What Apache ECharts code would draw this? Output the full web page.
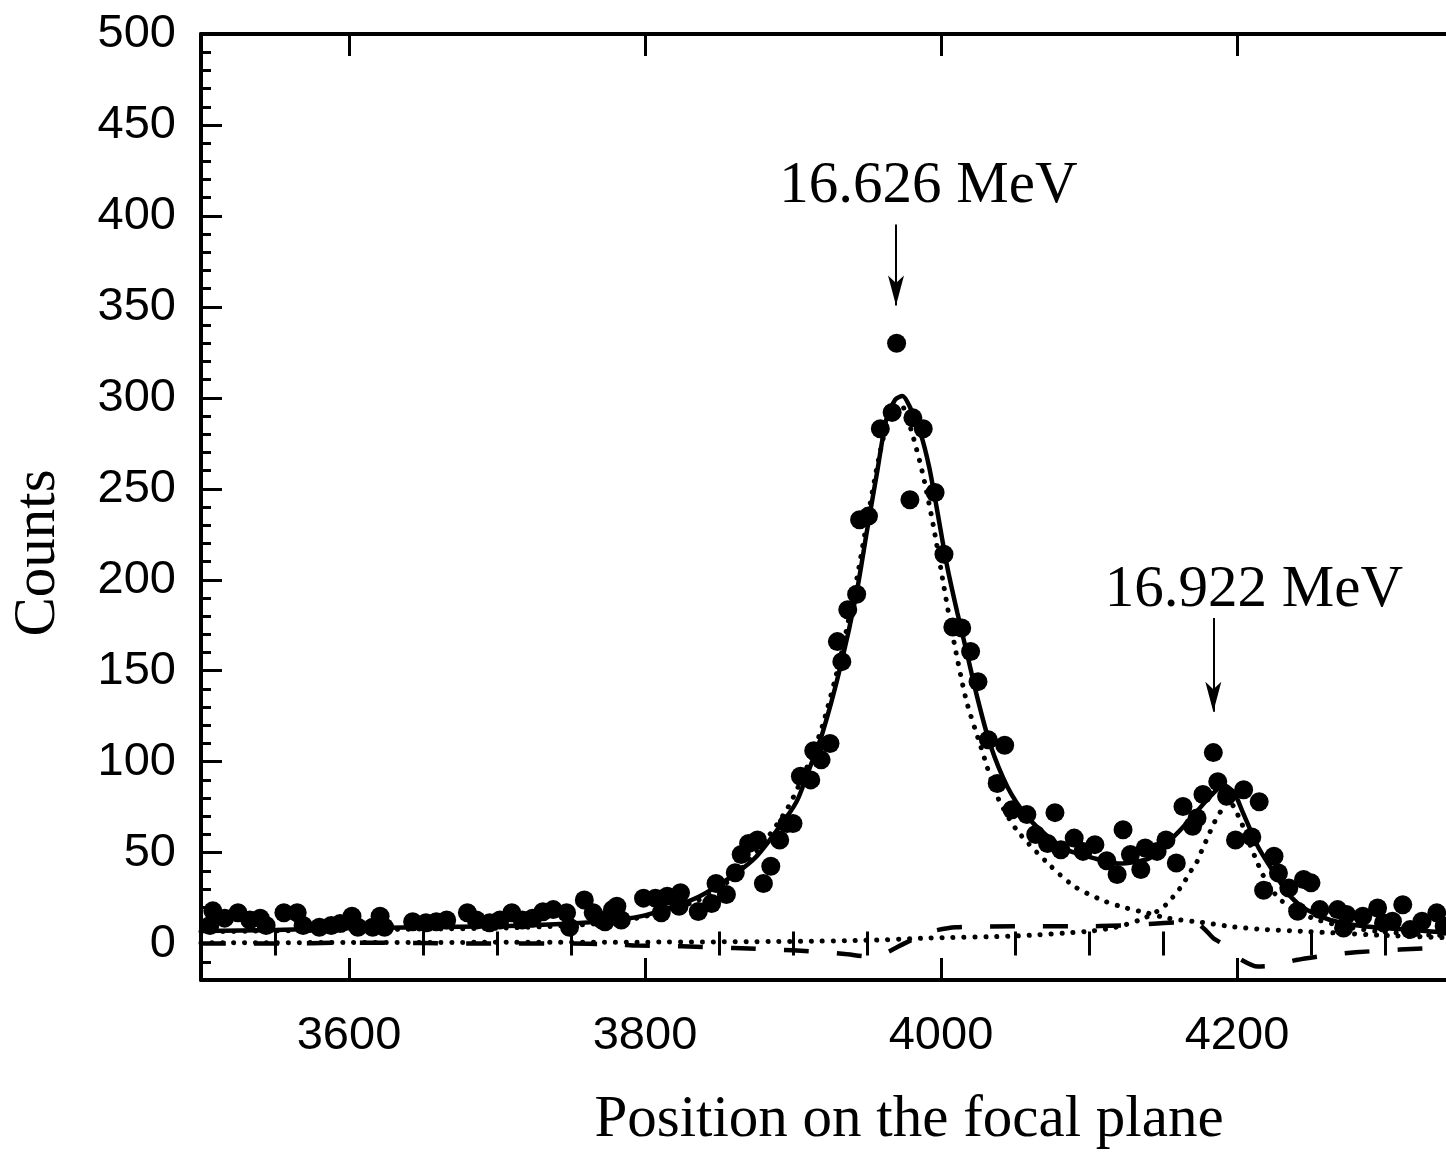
<!DOCTYPE html>
<html><head><meta charset="utf-8">
<script src="https://cdn.jsdelivr.net/npm/echarts@6/dist/echarts.min.js"></script>
<style>html,body{margin:0;padding:0;background:#fff;overflow:hidden;width:1446px;height:1153px}#c{width:1459px;height:1153px}</style>
</head><body><div id="c"></div>
<script>
// ---- measured data points ----
const pointX = [3506,3508,3516,3525,3533,3540,3544,3556,3565,3569,3580,3588,3594,3602,3606,3616,3621,3624,3643,3652,3659,3666,3680,3686,3695,3702,3710,3717,3724,3731,3738,3747,3749,3759,3765,3771,3778,
  3773,3781,3784,3799,3807,3811,3815,3824,3823,3836,3845,3848,3855,3861,3865,3870,3876,3885,3880,3891,3896,3900,3905,3912,3914,3919,3925,
  3930,3933,3937,3943,3945,3951,3959,3967,3970,3979,3981,3988,3996,4002,4008,4014,4020,4025,4032,4038,4043,4048,4058,4064,4072,4077,4081,4090,4096,4104,4112,4119,4123,
  4128,4135,4138,4146,4152,4159,4163.5,4170,4173,4177,4184,4187,4193,4199,4204.5,4210,4215,4218,4225,4228,4235,4241,4245,4250,4256,4268,4272,4274,4285,4295,4299,4305,4312,4317,4325,4335,4340];
const pointY = [10,18,14,17,13,14,10,17,17,10,9,10,11,15,9,9,15,9,12,11.5,12,13,17,13,11.5,13,17,13,14,17.5,18.7,17,9,24,17,13,18.7,
  12,20.5,13,25,25,17,26,28,20.5,17.7,22,33,27,39,49,55,57,42.5,33,57,66,66,92,90,106,101,110,
  166,155,183.5,192,233,235,283,292,330,244,289,283,248,214,174,173.5,160.6,144,112,88,109,73.6,71,60,55,72,51.6,58,50.7,54.4,45.5,38,62.6,
  49,40.7,52.6,50.7,57,44.3,75.4,64.5,69,82,105,89,81,57,84.6,58.6,78,29.3,48,38.8,30.6,17.8,35.2,33.4,18.7,18.7,8.6,16,15,19.6,11.4,12.3,21.4,7.7,12.3,16.9,9.5];

// ---- fitted curves ----
const fitX = [3500,3550,3600,3650,3700,3750,3780,3800,3837,3873,3896,3903,3911,3920,3932,3943,3950,3957,3963,3969,3974,3979,3986,3992,3997,4004,4011,4018,4024,4033,4045,4058,4072,4085,4103,4120,4141,4155,4168,4182,4191,4198,4204,4214,4225,4236,4247,4263,4286,4315,4350];
const fitY = [7,7.5,8.5,9,9.5,11,13,15.5,26,46,70,79,96,116,152,193,227,260,288,299,301,295,281,262,240,208,182,158,137,110,86,70,59,51.6,47,44,47,57,68,81,87,83,72,53.5,39,26,18.7,13,9.5,7.7,5.5];

const peak1X = [3500,3550,3600,3650,3700,3750,3780,3800,3830,3850,3873,3896,3911,3920,3932,3943,3950,3957,3963,3969,3973,3981,3988,3995,4002,4008,4017,4027,4038,4051,4072,4090,4110,4125,4139,4153,4176,4198,4220,4243,4265,4300,4350];
const peak1Y = [6.5,7,7.5,8,8.5,10,12,15,22,30,48,74,100,120,157,200,232,263,284,294,296,279,257,229,196,169,134,108,81,62.6,44.3,31.5,23.5,19.6,16.9,14,11.7,9.2,7.7,6.8,5.9,4.5,3];

const peak2X = [3500,3600,3700,3800,3900,3950,3990,4050,4100,4118,4135,4148,4154,4159,4164,4167,4172,4175,4178,4181,4184,4187,4191,4194,4198,4201,4204,4208,4212,4218,4227,4238,4254,4272,4295,4326,4350];
const peak2Y = [0.4,0.6,0.7,0.8,1.2,1.8,3,4.2,6.8,9,13.2,18.7,23,28,33,38,43.4,49,54.4,60,65.4,70.3,75,79,75,70,64.5,56,48,37,26,18.7,13.2,9.5,6.8,5,4.3];

const bgX = [3500,3550,3600,3650,3700,3750,3780,3795,3825,3860,3900,3935,3950,3960,3968,3975,3985,3995,4010,4050,4090,4125,4160,4172,4178,4184,4190,4196,4200,4214,4225,4240,4260,4280,4310,4350];
const bgY = [0,0,0.5,0.3,0,0,-0.5,-1.1,-1.5,-2.4,-3.7,-5.7,-7,-6,-3,0,3.8,7,9,9.5,9.5,10,11.7,11.5,8,3,0,-4.4,-7.5,-12.6,-12,-9,-6.5,-4.8,-3.3,-1.8];

// ---- axes ----
const xMajorTicks = [3600,3800,4000,4200];
const xMinorTicks = [3550,3650,3700,3750,3850,3900,3950,4050,4100,4150,4250,4300,4350];
const yMajorTicks = [0,50,100,150,200,250,300,350,400,450,500];
const yMinorTicks = [-10,10,20,30,40,60,70,80,90,110,120,130,140,160,170,180,190,210,220,230,240,260,270,280,290,310,320,330,340,360,370,380,390,410,420,430,440,460,470,480,490];

// ---- annotations ----
const annText = ['16.626 MeV','16.922 MeV'];
const annX = [3991.5, 4211.4];
const annY = [416, 194];
const arrowX = [3969.6, 4184];
const arrowTop = [395.3, 179];
const arrowTip = [350.8, 127.4];
const xTitle = 'Position on the focal plane';
const yTitle = 'Counts';

const zip = (a,b)=>a.map((v,i)=>[v,b[i]]);
const sans = "'Liberation Sans', Arial, sans-serif";
const serif = "'Liberation Serif', 'Times New Roman', serif";

const chart = echarts.init(document.getElementById('c'), null, {renderer:'canvas', width:1459, height:1153});
const baseX = {type:'value', min:3500, max:4350, splitLine:{show:false}, gridIndex:0};
const baseY = {type:'value', min:-20, max:500, splitLine:{show:false}, gridIndex:0};
const axisLine = {show:true, onZero:false, lineStyle:{color:'#000', width:4}};
const plain = v => String(v);
chart.setOption({
  animation:false,
  backgroundColor:'#fff',
  grid:{left:201, top:34, bottom:173, right:0, containLabel:false},
  xAxis:[
    Object.assign({}, baseX, {position:'bottom', axisLine:axisLine,
      axisTick:{show:true, inside:true, length:22, customValues:xMajorTicks, lineStyle:{color:'#000', width:3}},
      axisLabel:{show:true, customValues:xMajorTicks, formatter:plain, color:'#000', fontSize:47, fontFamily:sans, margin:33}}),
    Object.assign({}, baseX, {position:'bottom', axisLine:{show:false},
      axisTick:{show:true, inside:true, length:12, customValues:xMinorTicks, lineStyle:{color:'#000', width:3}},
      axisLabel:{show:false}}),
    Object.assign({}, baseX, {position:'top', axisLine:axisLine,
      axisTick:{show:true, inside:true, length:22, customValues:xMajorTicks, lineStyle:{color:'#000', width:3}},
      axisLabel:{show:false}}),
    Object.assign({}, baseX, {position:'top', axisLine:{show:false},
      axisTick:{show:true, inside:true, length:12, customValues:xMinorTicks, lineStyle:{color:'#000', width:3}},
      axisLabel:{show:false}})
  ],
  yAxis:[
    Object.assign({}, baseY, {position:'left', axisLine:axisLine,
      axisTick:{show:true, inside:true, length:21, customValues:yMajorTicks, lineStyle:{color:'#000', width:3}},
      axisLabel:{show:true, customValues:yMajorTicks, formatter:plain, color:'#000', fontSize:47, fontFamily:sans, margin:25}}),
    Object.assign({}, baseY, {position:'left', axisLine:{show:false},
      axisTick:{show:true, inside:true, length:10, customValues:yMinorTicks, lineStyle:{color:'#000', width:3}},
      axisLabel:{show:false}})
  ],
  series:[
    {type:'scatter', name:'data', data:zip(pointX,pointY), symbol:'circle', symbolSize:19,
      itemStyle:{color:'#000', opacity:1}, z:2},
    {type:'line', name:'peak1', data:zip(peak1X,peak1Y), showSymbol:false, smooth:0.25, z:3,
      lineStyle:{color:'#000', width:5, type:[0.1,10.8], cap:'round', opacity:1}},
    {type:'line', name:'peak2', data:zip(peak2X,peak2Y), showSymbol:false, smooth:0.25, z:3,
      lineStyle:{color:'#000', width:5, type:[0.1,10.8], cap:'round', opacity:1}},
    {type:'line', name:'background', data:zip(bgX,bgY), showSymbol:false, smooth:0.25, z:3,
      lineStyle:{color:'#000', width:4.5, type:[25,28], opacity:1}},
    {type:'line', name:'fit', data:zip(fitX,fitY), showSymbol:false, smooth:0.25, z:4,
      lineStyle:{color:'#000', width:4.5, opacity:1}},
    {type:'line', name:'arrows', data:[], z:5, silent:true,
      markLine:{silent:true, animation:false, label:{show:false},
        lineStyle:{color:'#000', width:2, type:'solid', opacity:1},
        symbol:['none','arrow'], symbolSize:[1,14],
        data:arrowX.map((x,i)=>[{coord:[x,arrowTop[i]], symbol:'none'},{coord:[x,arrowTip[i]], symbol:'arrow', symbolSize:[12,30]}])}}
  ]
});
const g = [];
annText.forEach((t,i)=>{
  const p = chart.convertToPixel({xAxisIndex:0, yAxisIndex:0}, [annX[i], annY[i]]);
  g.push({type:'text', x:p[0], y:p[1], style:{text:t, font:'59px '+serif, fill:'#000', align:'center', verticalAlign:'middle'}, z:10});
});
g.push({type:'text', x:909, y:1120, style:{text:xTitle, font:'59px '+serif, fill:'#000', align:'center', verticalAlign:'middle'}});
g.push({type:'text', x:38, y:553, rotation:Math.PI/2, style:{text:yTitle, font:'59px '+serif, fill:'#000', align:'center', verticalAlign:'middle'}});
chart.setOption({graphic:g});
</script></body></html>
